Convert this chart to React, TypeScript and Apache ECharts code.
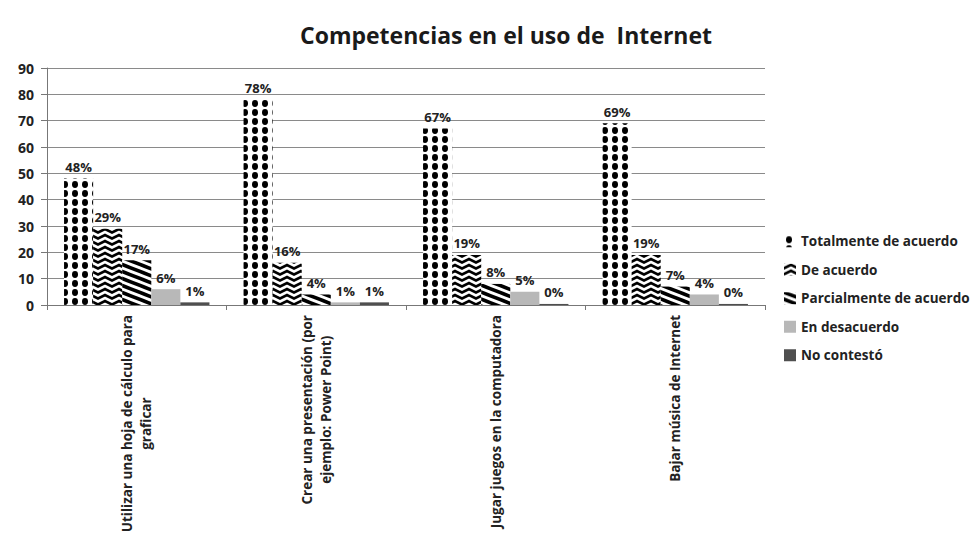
import React, { useEffect, useRef } from "react";
import * as echarts from "echarts";

const categories = [
  "Utilizar una hoja de cálculo para\ngraficar",
  "Crear una presentación (por\nejemplo: Power Point)",
  "Jugar juegos en la computadora",
  "Bajar música de Internet",
];
const seriesNames = [
  "Totalmente de acuerdo",
  "De acuerdo",
  "Parcialmente de acuerdo",
  "En desacuerdo",
  "No contestó",
];
const totalmente = [48, 78, 67, 69];
const deAcuerdo = [29, 16, 19, 19];
const parcialmente = [17, 4, 8, 7];
const enDesacuerdo = [6, 1, 5, 4];
const noContesto = [1, 1, 0.4, 0.4];
const yTicks = [0, 10, 20, 30, 40, 50, 60, 70, 80, 90];

const FONT = "Open Sans";

function makeTile(w: number, h: number, draw: (c: CanvasRenderingContext2D) => void) {
  const cv = document.createElement("canvas");
  cv.width = w;
  cv.height = h;
  const ctx = cv.getContext("2d")!;
  ctx.fillStyle = "#ffffff";
  ctx.fillRect(0, 0, w, h);
  draw(ctx);
  return { image: cv.toDataURL(), repeat: "repeat", imageWidth: w, imageHeight: h } as any;
}

export default function App() {
  const ref = useRef<HTMLDivElement>(null);
  useEffect(() => {
    if (!ref.current) return;
    const chart = echarts.init(ref.current, undefined, { renderer: "svg" });

    const dots = makeTile(10, 9, (c) => {
      c.fillStyle = "#000";
      c.beginPath();
      c.ellipse(5, 4.5, 3, 3.4, 0, 0, Math.PI * 2);
      c.fill();
    });
    const chevrons = makeTile(14, 6, (c) => {
      c.strokeStyle = "#000";
      c.lineWidth = 2.6;
      for (const dy of [-6, 0, 6]) {
        c.beginPath();
        c.moveTo(-1, 5 + dy);
        c.lineTo(7, 1 + dy);
        c.lineTo(15, 5 + dy);
        c.stroke();
      }
    });
    const stripes = makeTile(18, 7, (c) => {
      c.strokeStyle = "#000";
      c.lineWidth = 3.5;
      for (const dy of [-7, 0, 7]) {
        c.beginPath();
        c.moveTo(-2, -0.78 + dy);
        c.lineTo(20, 7.78 + dy);
        c.stroke();
      }
    });

    const colors: any[] = [dots, chevrons, stripes, "#b8b8b8", "#4f4f4f"];
    const dataSets = [totalmente, deAcuerdo, parcialmente, enDesacuerdo, noContesto];

    const series = seriesNames.map((name, i) => ({
      name,
      type: "bar",
      data: dataSets[i],
      barGap: "0%",
      barCategoryGap: "19%",
      itemStyle: { color: colors[i] },
      label: {
        show: true,
        position: "top",
        distance: 5,
        color: "#222",
        fontFamily: FONT,
        fontWeight: "bold",
        fontSize: 13,
        formatter: (p: any) => Math.round(p.value) + "%",
      },
    }));

    chart.setOption({
      animation: false,
      backgroundColor: "#ffffff",
      title: {
        text: "Competencias en el uso de  Internet",
        left: 501,
        top: 18,
        textAlign: "center",
        textStyle: { fontFamily: FONT, fontWeight: "bold", fontSize: 23, color: "#1a1a1a" },
      },
      legend: {
        orient: "vertical",
        left: 779,
        top: 229,
        itemWidth: 12,
        itemHeight: 12,
        itemGap: 14,
        icon: "rect",
        textStyle: {
          fontFamily: FONT,
          fontWeight: "bold",
          fontSize: 13.5,
          lineHeight: 14.5,
          color: "#222",
        },
        data: seriesNames,
      },
      grid: { left: 47, right: 211, top: 68, bottom: 234, containLabel: false, outerBoundsMode: "none" },
      xAxis: {
        type: "category",
        data: categories,
        axisLine: { lineStyle: { color: "#777", width: 1 } },
        axisTick: { show: true, length: 5, lineStyle: { color: "#777" } },
        axisLabel: {
          interval: 0,
          rotate: 90,
          margin: 10,
          color: "#222",
          fontFamily: FONT,
          fontWeight: "bold",
          fontSize: 13.5,
          lineHeight: 19,
          formatter: (v: string) =>
            v
              .split("\n")
              .map((l) => "{a|" + l + "}")
              .join("\n"),
          rich: {
            a: { align: "center", fontFamily: FONT, fontWeight: "bold", fontSize: 13.5, color: "#222", lineHeight: 19 },
          },
        },
      },
      yAxis: {
        type: "value",
        min: yTicks[0],
        max: yTicks[yTicks.length - 1],
        interval: 10,
        axisLine: { show: true, lineStyle: { color: "#777" } },
        axisTick: { show: true, length: 6, lineStyle: { color: "#777" } },
        axisLabel: { color: "#222", fontFamily: FONT, fontWeight: "bold", fontSize: 14, margin: 13 },
        splitLine: { lineStyle: { color: "#8a8a8a", width: 1 } },
      },
      series,
    });
    return () => chart.dispose();
  }, []);
  return <div ref={ref} style={{ width: 976, height: 539, position: "absolute", left: 0, top: 0 }} />;
}
